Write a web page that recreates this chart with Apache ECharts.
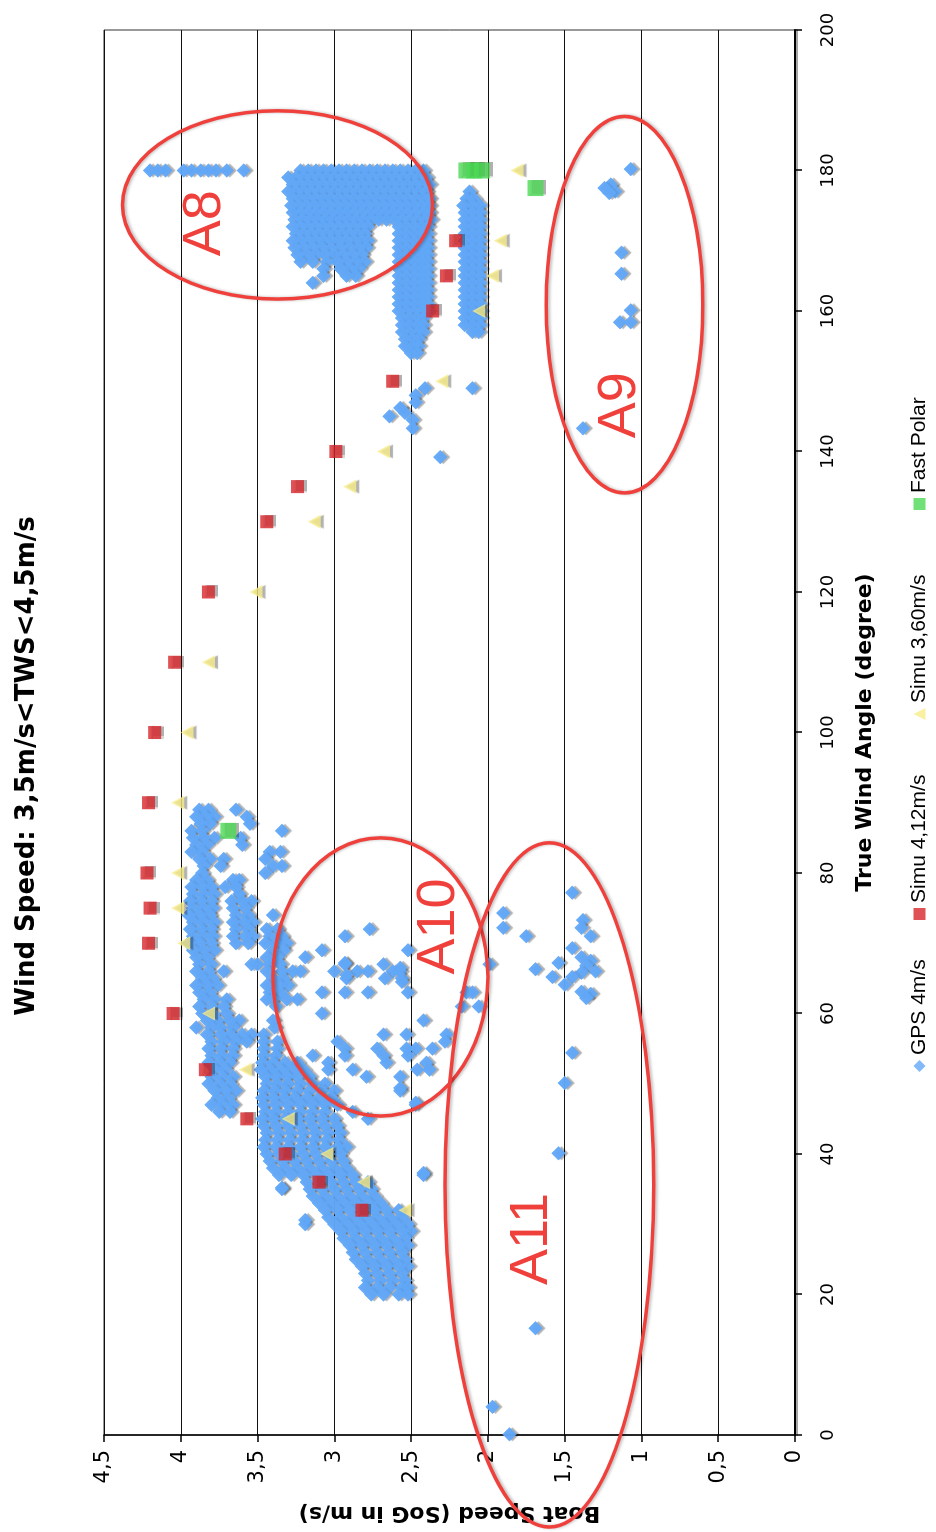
<!DOCTYPE html>
<html>
<head>
<meta charset="utf-8">
<script src="https://cdn.jsdelivr.net/npm/echarts@6/dist/echarts.min.js"></script>
<style>
  html, body { margin: 0; padding: 0; background: #fff; width: 936px; height: 1532px; overflow: hidden; }
  /* the chart is laid out landscape and turned a quarter turn counter-clockwise */
  #chart { position: absolute; left: 0; top: 0; width: 1532px; height: 936px;
           transform-origin: 0 0; transform: translate(0, 1532px) rotate(-90deg); }
</style>
</head>
<body>
<div id="chart"></div>
<script>
// ---- data: [true wind angle (deg), boat speed (m/s)] ----
const titleText = 'Wind Speed: 3,5m/s<TWS<4,5m/s';
const seriesNames = ['GPS 4m/s', 'Simu 4,12m/s', 'Simu 3,60m/s', 'Fast Polar'];

// GPS log, grouped by angle: [angle, [speeds...]]
const gpsRows = [
  [180, [4.20,4.15,4.10,3.98,3.93,3.87,3.82,3.77,3.70,3.59,3.22,3.17,3.12,3.07,3.02,2.97,2.92,2.87,2.82,2.77,2.72,2.67,2.62,2.57,2.52,2.47,2.42]],
  [179, [3.30,3.25,3.20,3.15,3.10,3.05,3.00,2.95,2.90,2.85,2.80,2.75,2.70,2.65,2.60,2.55,2.50,2.45,2.40]],
  [178, [3.27,3.22,3.17,3.12,3.07,3.02,2.97,2.92,2.87,2.82,2.77,2.72,2.67,2.62,2.57,2.52,2.47,2.42,2.38]],
  [177, [3.30,3.25,3.20,3.15,3.10,3.05,3.00,2.95,2.90,2.85,2.80,2.75,2.70,2.65,2.60,2.55,2.50,2.45,2.40,2.12]],
  [176, [3.27,3.22,3.17,3.12,3.07,3.02,2.97,2.92,2.87,2.82,2.77,2.72,2.67,2.62,2.57,2.52,2.47,2.42,2.38,2.14,2.09]],
  [175, [3.28,3.23,3.18,3.13,3.08,3.03,2.98,2.93,2.88,2.83,2.78,2.73,2.68,2.63,2.58,2.53,2.48,2.43,2.38,2.16,2.10,2.05]],
  [174, [3.27,3.22,3.17,3.12,3.07,3.02,2.97,2.92,2.87,2.82,2.77,2.72,2.67,2.62,2.57,2.52,2.47,2.42,2.38,2.15,2.10,2.05]],
  [173, [3.26,3.21,3.16,3.11,3.06,3.01,2.96,2.91,2.86,2.81,2.76,2.71,2.66,2.61,2.56,2.51,2.46,2.41,2.37,2.15,2.10,2.05]],
  [172, [3.27,3.22,3.17,3.12,3.07,3.02,2.97,2.92,2.87,2.82,2.78,2.58,2.53,2.48,2.43,2.39,2.15,2.10,2.05]],
  [171, [3.25,3.20,3.15,3.10,3.05,3.00,2.95,2.90,2.85,2.80,2.58,2.53,2.48,2.43,2.39,2.15,2.10,2.05]],
  [170, [3.27,3.22,3.17,3.12,3.07,3.02,2.97,2.92,2.87,2.82,2.78,2.58,2.53,2.48,2.43,2.39,2.15,2.10,2.05]],
  [169, [3.26,3.20,3.14,3.08,3.02,2.96,2.90,2.84,2.79,2.58,2.53,2.48,2.43,2.39,2.15,2.10,2.05]],
  [168, [3.24,3.18,3.12,3.06,3.00,2.94,2.88,2.82,2.58,2.53,2.48,2.43,2.39,2.15,2.10,2.05]],
  [167, [3.22,3.14,3.05,2.98,2.92,2.86,2.80,2.58,2.53,2.48,2.43,2.39,2.15,2.10,2.05]],
  [166, [3.07,2.96,2.90,2.84,2.58,2.53,2.48,2.43,2.39,2.15,2.10,2.05]],
  [165, [3.07,2.92,2.86,2.58,2.53,2.48,2.43,2.39,2.15,2.10,2.05]],
  [164, [3.14,2.58,2.53,2.48,2.43,2.39,2.15,2.10,2.05]],
  [163, [2.58,2.53,2.48,2.43,2.39,2.15,2.10,2.05]],
  [162, [2.58,2.53,2.48,2.43,2.39,2.15,2.10,2.05]],
  [161, [2.58,2.53,2.48,2.43,2.39,2.15,2.10,2.05]],
  [160, [2.58,2.53,2.48,2.43,2.39,2.15,2.10,2.05]],
  [159, [2.56,2.51,2.46,2.42,2.15,2.10,2.05]],
  [158, [2.56,2.51,2.46,2.42,2.15,2.10,2.05]],
  [157, [2.56,2.51,2.46,2.42,2.10,2.06]],
  [156, [2.54,2.49,2.45]],
  [155, [2.54,2.49,2.45]],
  [154, [2.50,2.46]],
  [89, [3.88,3.82,3.64]],
  [88, [3.90,3.84,3.78,3.57]],
  [87, [3.87,3.81,3.55]],
  [86, [3.93,3.86,3.34]],
  [85, [3.92,3.85,3.78,3.61]],
  [84, [3.90,3.83,3.60]],
  [83, [3.93,3.86,3.42,3.35]],
  [82, [3.88,3.81,3.72,3.45]],
  [81, [3.85,3.74,3.40,3.34]],
  [80, [3.86,3.45]],
  [79, [3.90,3.83,3.66,3.62]],
  [78, [3.93,3.86,3.80,3.71,3.64]],
  [77, [3.92,3.85,3.78,3.62]],
  [76, [3.94,3.87,3.80,3.67,3.60,3.54]],
  [75, [3.92,3.85,3.79,3.66,3.58]],
  [74, [3.95,3.88,3.81,3.64,3.56,3.40]],
  [73, [3.92,3.85,3.78,3.66,3.59,3.53]],
  [72, [3.94,3.87,3.80,3.64,3.56,3.44,3.37,2.77]],
  [71, [3.92,3.85,3.79,3.66,3.58,3.53,3.42,3.34,2.93]],
  [70, [3.95,3.88,3.80,3.64,3.56,3.45,3.38,3.31]],
  [69, [3.92,3.85,3.78,3.40,3.33,3.08,2.52]],
  [68, [3.90,3.83,3.44,3.37,3.19]],
  [67, [3.88,3.80,3.54,3.50,3.42,3.35,2.93,2.68,1.99]],
  [66, [3.90,3.82,3.72,3.44,3.34,3.27,3.22,3.00,2.85,2.78,2.62,2.57]],
  [65, [3.86,3.79,3.40,3.33,2.92,2.67,2.56]],
  [64, [3.90,3.83,3.76,3.44,3.36,3.30]],
  [63, [3.88,3.81,3.42,3.35,3.08,2.93,2.78,2.52,2.14,2.10]],
  [62, [3.85,3.78,3.70,3.44,3.40,3.31,3.24]],
  [61, [3.88,3.80,3.72,3.38,2.17,2.06]],
  [60, [3.86,3.79,3.70,3.08]],
  [59, [3.83,3.76,3.68,3.62,3.40,2.42]],
  [58, [3.90,3.80,3.74,3.66,3.39]],
  [57, [3.83,3.74,3.68,3.60,3.54,3.46,2.68,2.53,2.27]],
  [56, [3.80,3.72,3.64,3.57,3.46,3.37,2.98,2.28]],
  [55, [3.82,3.74,3.66,3.46,3.37,2.93,2.72,2.53,2.47,2.36]],
  [54, [3.80,3.73,3.66,3.46,3.38,3.14,2.93,2.68,2.52]],
  [53, [3.82,3.75,3.68,3.47,3.40,3.32,3.24,3.04,2.66,2.40]],
  [52, [3.78,3.71,3.48,3.42,3.35,3.28,3.20,3.04,2.88,2.46,2.38]],
  [51, [3.80,3.73,3.66,3.45,3.38,3.31,3.24,3.16,2.79,2.57]],
  [50, [3.82,3.75,3.68,3.44,3.37,3.30,3.22,3.14,3.06]],
  [49, [3.78,3.71,3.64,3.46,3.39,3.32,3.24,3.16,3.08,3.00,2.57]],
  [48, [3.76,3.69,3.47,3.40,3.33,3.26,3.18,3.10,3.02]],
  [47, [3.80,3.73,3.66,3.46,3.38,3.30,3.22,3.14,3.06,2.98,2.47]],
  [46, [3.75,3.68,3.45,3.38,3.30,3.22,3.14,3.06,2.88]],
  [45, [3.47,3.40,3.32,3.24,3.16,3.08,3.00,2.78]],
  [44, [3.46,3.38,3.30,3.22,3.14,3.06,2.98]],
  [43, [3.44,3.36,3.28,3.20,3.12,3.04,2.96]],
  [42, [3.45,3.37,3.29,3.21,3.13,3.05,2.97]],
  [41, [3.46,3.38,3.30,3.22,3.14,3.06,2.98,2.92]],
  [40, [3.44,3.36,3.28,3.20,3.12,3.04,2.96]],
  [39, [3.42,3.34,3.26,3.18,3.10,3.02,2.94]],
  [38, [3.40,3.32,3.24,3.16,3.08,3.00,2.92]],
  [37, [3.36,3.28,3.20,3.12,3.04,2.96,2.88,2.42]],
  [36, [3.18,3.10,3.02,2.94,2.86,2.78]],
  [35, [3.34,3.16,3.08,3.00,2.92,2.84,2.76]],
  [34, [3.14,3.06,2.98,2.90,2.82,2.74]],
  [33, [3.10,3.02,2.94,2.86,2.78,2.70]],
  [32, [3.06,2.98,2.90,2.82,2.74,2.66,2.58]],
  [31, [3.04,2.96,2.88,2.80,2.72,2.64,2.56]],
  [30, [3.19,3.00,2.92,2.84,2.76,2.68,2.60,2.52]],
  [29, [2.96,2.88,2.80,2.72,2.64,2.56,2.50]],
  [28, [2.94,2.86,2.78,2.70,2.62,2.54]],
  [27, [2.90,2.82,2.74,2.66,2.58,2.52]],
  [26, [2.88,2.80,2.72,2.64,2.56]],
  [25, [2.86,2.78,2.70,2.62,2.54]],
  [24, [2.82,2.74,2.66,2.58,2.52]],
  [23, [2.80,2.72,2.64,2.56]],
  [22, [2.78,2.70,2.62,2.54]],
  [21, [2.80,2.72,2.64,2.56,2.52]],
  [20, [2.76,2.68,2.58,2.52]]
];

// isolated GPS fixes
const gpsScattered = [
  [149.0,2.41],[148.0,2.47],[147.0,2.47],[146.2,2.57],[145.0,2.64],[145.5,2.54],[144.5,2.49],[143.3,2.49],
  [149.0,2.10],[139.2,2.31],
  [180.2,1.07],[178.0,1.20],[177.5,1.24],[177.0,1.17],[176.8,1.21],[168.3,1.13],[165.3,1.13],
  [160.1,1.07],[158.4,1.14],[158.4,1.07],[143.3,1.38],
  [77.2,1.45],[74.3,1.90],[72.2,1.90],[71.0,1.75],[73.3,1.38],[72.2,1.39],[71.0,1.33],[69.3,1.45],
  [68.0,1.39],[67.5,1.33],[66.8,1.36],[66.0,1.30],[65.8,1.39],[67.2,1.54],[66.3,1.69],[65.2,1.58],
  [65.2,1.45],[64.1,1.50],[63.1,1.39],[62.8,1.33],[62.2,1.36],[54.4,1.45],[50.1,1.50],[40.1,1.54],
  [15.2,1.69],[4.0,1.97],[0.1,1.86],
  [67.2,2.93],[65.5,2.92],[66.5,2.57],[64.5,2.56],[49.4,2.57],[47.3,2.47],
  [37.3,2.42],[35.2,3.34],[30.6,3.19]
];

const simu412 = [
  [32,2.82],[36,3.10],[40,3.32],[45,3.57],[52,3.84],[60,4.05],[70,4.21],[75,4.20],[80,4.22],[90,4.21],
  [100,4.17],[110,4.04],[120,3.82],[130,3.44],[135,3.24],[140,2.99],[150,2.62],[160,2.36],[165,2.27],[170,2.21]
];

const simu360 = [
  [32,2.54],[36,2.81],[40,3.05],[45,3.30],[52,3.58],[60,3.82],[70,3.98],[75,4.02],[80,4.02],[90,4.02],
  [100,3.96],[110,3.82],[120,3.51],[130,3.13],[135,2.90],[140,2.68],[150,2.30],[160,2.06],[165,1.97],[170,1.92],[180,1.81]
];

const fastPolar = [[86,3.69],[177.5,1.69],[180,2.14],[180,2.09],[180,2.04]];

// hand-drawn zones: centre and half-extent in axis units, label anchor
const zoneNames   = ['A8', 'A9', 'A10', 'A11'];
const zoneCentres = [[175.1,3.37],[160.9,1.11],[65.2,2.70],[35.6,1.60]];
const zoneHalf    = [[13.4,1.01],[26.8,0.51],[19.8,0.70],[48.7,0.68]];
const zoneLabels  = [[172.5,3.84],[146.6,1.14],[72.4,2.32],[27.9,1.71]];

// ---- build ----
const gpsPoints = [];
gpsRows.forEach(function (row) {
  row[1].forEach(function (s) { gpsPoints.push([row[0], s]); });
});
gpsScattered.forEach(function (p) { gpsPoints.push(p); });

const FONT = '"DejaVu Sans", Verdana, sans-serif';
const LEGEND_FONT = '"Liberation Sans", Arial, sans-serif';
const shadow = { shadowColor: 'rgba(0,0,0,0.38)', shadowBlur: 1, shadowOffsetX: 0, shadowOffsetY: 3 };
const GPS_BLUE = '#62a7f7';

const chart = echarts.init(document.getElementById('chart'), null, { renderer: 'canvas' });

// one legend block per entry so each sits where it belongs along the bottom
const legendLefts = [455, 607, 807, 1017];
const legends = seriesNames.map(function (n, i) {
  return {
    data: [n], left: legendLefts[i], top: 904, itemWidth: 12, itemHeight: 12, itemGap: 0,
    textStyle: { fontFamily: LEGEND_FONT, fontSize: 21, color: '#000' }
  };
});

chart.setOption({
  animation: false,
  backgroundColor: '#fff',
  title: {
    text: titleText, left: 'center', top: 9,
    textStyle: { fontFamily: FONT, fontWeight: 'bold', fontSize: 26, color: '#000' }
  },
  legend: legends,
  grid: { left: 97, right: 30, top: 104, bottom: 141, show: true, borderColor: '#333', borderWidth: 1 },
  xAxis: {
    type: 'value', min: 0, max: 200, interval: 20,
    name: 'True Wind Angle (degree)', nameLocation: 'middle', nameGap: 59,
    nameTextStyle: { fontFamily: FONT, fontWeight: 'bold', fontSize: 22, color: '#000' },
    axisLine: { onZero: false, lineStyle: { color: '#000', width: 2, shadowColor: 'rgba(0,0,0,0.35)', shadowOffsetY: 2 } },
    axisTick: { length: 7, lineStyle: { color: '#000', width: 1.5 } },
    axisLabel: { fontFamily: FONT, fontSize: 18, color: '#000', margin: 24 },
    splitLine: { show: false }
  },
  yAxis: {
    type: 'value', min: 0, max: 4.5, interval: 0.5,
    name: 'Boat Speed (SoG in m/s)', nameLocation: 'middle', nameGap: 67,
    nameTextStyle: { fontFamily: FONT, fontWeight: 'bold', fontSize: 22, color: '#000' },
    axisLine: { show: true, lineStyle: { color: '#000', width: 1.5 } },
    axisTick: { show: true, length: 7, lineStyle: { color: '#000', width: 1.5 } },
    axisLabel: {
      fontFamily: FONT, fontSize: 21, color: '#000', margin: 15,
      formatter: function (v) { return String(v).replace('.', ','); }
    },
    splitLine: { show: true, lineStyle: { color: '#111', width: 1.2 } }
  },
  series: [
    // GPS fixes: the shaded pass underneath, then a flat pass so only the outer edge keeps its shade
    {
      name: seriesNames[0], type: 'scatter', symbol: 'diamond', symbolSize: 14,
      itemStyle: Object.assign({ color: GPS_BLUE }, shadow),
      data: gpsPoints, z: 2
    },
    {
      name: seriesNames[0], type: 'scatter', symbol: 'diamond', symbolSize: 14,
      itemStyle: { color: GPS_BLUE },
      data: gpsPoints, z: 2
    },
    {
      name: seriesNames[1], type: 'scatter', symbol: 'rect', symbolSize: 13,
      itemStyle: Object.assign({ color: '#d7252b' }, shadow),
      data: simu412, z: 3
    },
    {
      name: seriesNames[2], type: 'scatter', symbol: 'triangle', symbolSize: [14, 13],
      itemStyle: Object.assign({ color: '#f8ec8a' }, shadow),
      data: simu360, z: 3
    },
    {
      name: seriesNames[3], type: 'scatter', symbol: 'rect', symbolSize: 16,
      itemStyle: Object.assign({ color: '#4cd955' }, shadow),
      data: fastPolar, z: 4
    }
  ]
});

// zone outlines and their names, placed through the axes
function px(p) { return chart.convertToPixel({ xAxisIndex: 0, yAxisIndex: 0 }, p); }
const graphics = [];
zoneNames.forEach(function (name, i) {
  const c = px(zoneCentres[i]);
  const e = px([zoneCentres[i][0] + zoneHalf[i][0], zoneCentres[i][1] + zoneHalf[i][1]]);
  graphics.push({
    type: 'ellipse', z: 10, silent: true,
    shape: { cx: c[0], cy: c[1], rx: Math.abs(e[0] - c[0]), ry: Math.abs(e[1] - c[1]) },
    style: { fill: null, stroke: '#f0403c', lineWidth: 3.5,
             shadowColor: 'rgba(0,0,0,0.25)', shadowBlur: 3, shadowOffsetY: 2 }
  });
  const l = px(zoneLabels[i]);
  graphics.push({
    type: 'text', z: 11, silent: true, x: l[0], y: l[1],
    style: { text: name, fill: '#f0403c', font: '54px "Liberation Sans", Arial, sans-serif',
             align: 'center', verticalAlign: 'middle' }
  });
});
chart.setOption({ graphic: graphics });
</script>
</body>
</html>
